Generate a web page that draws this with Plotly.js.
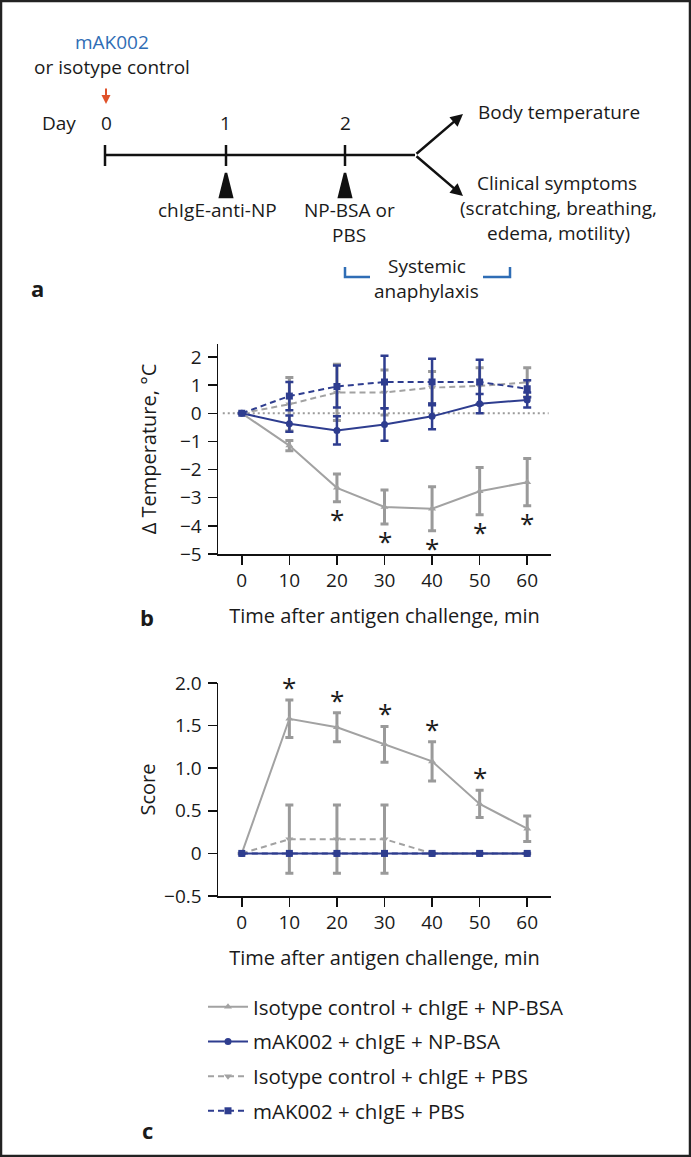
<!DOCTYPE html>
<html>
<head>
<meta charset="utf-8">
<script src="https://cdn.plot.ly/plotly-3.0.1.min.js"></script>
<style>
  html, body { margin: 0; padding: 0; background: #fff; }
  #fig { width: 691px; height: 1157px; }
</style>
</head>
<body>
<div id="fig"></div>
<script>
// time points (min after antigen challenge)
var times = [0, 10, 20, 30, 40, 50, 60];

// panel b: change in body temperature, mean and error
var tempIsoNP      = [0, -1.15, -2.65, -3.33, -3.39, -2.77, -2.45];
var tempIsoNPErr   = [0, 0.18, 0.49, 0.60, 0.78, 0.84, 0.84];
var tempMakNP      = [0, -0.37, -0.61, -0.40, -0.11, 0.34, 0.47];
var tempMakNPErr   = [0, 0.29, 0.50, 0.58, 0.46, 0.34, 0.27];
var tempIsoPBS     = [0, 0.32, 0.74, 0.74, 0.91, 0.97, 1.10];
var tempIsoPBSErr  = [0, 0.95, 1.00, 0.80, 0.57, 0.65, 0.52];
var tempMakPBS     = [0, 0.61, 0.95, 1.11, 1.11, 1.11, 0.87];
var tempMakPBSErr  = [0, 0.50, 0.75, 0.93, 0.83, 0.79, 0.30];
var tempSig        = [false, false, true, true, true, true, true];

// panel c: clinical score
var scoreIsoNP     = [0, 1.58, 1.48, 1.28, 1.08, 0.58, 0.29];
var scoreIsoNPErr  = [0, 0.22, 0.17, 0.21, 0.23, 0.16, 0.15];
var scoreMakNP     = [0, 0, 0, 0, 0, 0, 0];
var scoreIsoPBS    = [0, 0.167, 0.167, 0.167, 0, 0, 0];
var scoreIsoPBSErr = [0, 0.40, 0.40, 0.40, 0, 0, 0];
var scoreMakPBS    = [0, 0, 0, 0, 0, 0, 0];
var scoreSig       = [false, true, true, true, true, true, false];

var seriesNames = [
  'Isotype control + chIgE + NP-BSA',
  'mAK002 + chIgE + NP-BSA',
  'Isotype control + chIgE + PBS',
  'mAK002 + chIgE + PBS'
];
var tempTicks = [-5, -4, -3, -2, -1, 0, 1, 2];
var scoreTicks = [-0.5, 0, 0.5, 1, 1.5, 2];
var scoreTickText = ['\u22120.5', '0', '0.5', '1.0', '1.5', '2.0'];

var W = 691, H = 1157;
function px(x) { return x / W; }
function py(y) { return 1 - y / H; }

var GREY = '#a2a2a2', GREYBAR = '#9a9a9a', BLUE = '#2e3d8f';
var FONT = '"Open Sans", "Noto Sans", sans-serif';
var INK = '#1a1a1a';

function series(x, y, err, k, xa, ya, showleg) {
  var styles = [
    {color: GREY, dash: 'solid', sym: 'triangle-up', bar: GREYBAR, th: 3, rank: 1},
    {color: BLUE, dash: 'solid', sym: 'circle', bar: BLUE, th: 2.5, rank: 2},
    {color: GREY, dash: '6px,4px', sym: 'triangle-down', bar: GREYBAR, th: 3, rank: 3},
    {color: BLUE, dash: '6px,4px', sym: 'square', bar: BLUE, th: 2.5, rank: 4}
  ];
  var s = styles[k];
  var t = {
    x: x, y: y, type: 'scatter', mode: 'lines+markers',
    name: seriesNames[k], legendgroup: 'g' + k, legendrank: s.rank,
    showlegend: showleg, xaxis: xa, yaxis: ya,
    line: {color: s.color, width: 2, dash: s.dash},
    marker: {color: s.color, symbol: s.sym, size: 7}
  };
  if (err) {
    t.error_y = {type: 'data', array: err, visible: true, color: s.bar, thickness: s.th, width: 4};
  }
  return t;
}

var data = [
  series(times, tempIsoNP, tempIsoNPErr, 0, 'x', 'y', true),
  series(times, tempIsoPBS, tempIsoPBSErr, 2, 'x', 'y', true),
  series(times, tempMakNP, tempMakNPErr, 1, 'x', 'y', true),
  series(times, tempMakPBS, tempMakPBSErr, 3, 'x', 'y', true),
  series(times, scoreIsoNP, scoreIsoNPErr, 0, 'x2', 'y2', false),
  series(times, scoreIsoPBS, scoreIsoPBSErr, 2, 'x2', 'y2', false),
  series(times, scoreMakNP, null, 1, 'x2', 'y2', false),
  series(times, scoreMakPBS, null, 3, 'x2', 'y2', false)
];

var annotations = [];
var shapes = [];

function txt(text, x, y, opts) {
  var a = {text: text, x: px(x), y: py(y), xref: 'paper', yref: 'paper', showarrow: false,
           xanchor: 'center', yanchor: 'middle', font: {family: FONT, size: 19, color: INK}};
  for (var k in opts) a[k] = opts[k];
  annotations.push(a);
}
function line(x0, y0, x1, y1, color, w) {
  shapes.push({type: 'line', xref: 'paper', yref: 'paper', x0: px(x0), y0: py(y0), x1: px(x1), y1: py(y1),
               line: {color: color || '#111', width: w || 2.5}});
}
function path(pts, color, fill) {
  var d = pts.map(function (p, i) { return (i ? 'L' : 'M') + px(p[0]) + ',' + py(p[1]); }).join(' ');
  if (fill) d += ' Z';
  shapes.push({type: 'path', xref: 'paper', yref: 'paper', path: d,
               line: {color: color, width: 2.5}, fillcolor: fill ? color : 'rgba(0,0,0,0)'});
}

// ---- panel a: experimental schedule ----
txt('mAK002', 112, 42, {font: {family: FONT, size: 19, color: '#2f6db5'}});
txt('or isotype control', 112, 67);
annotations.push({x: px(106), y: py(104), xref: 'paper', yref: 'paper', text: '', showarrow: true,
  ax: 0, ay: -17, arrowhead: 2, arrowsize: 0.9, arrowwidth: 2, arrowcolor: '#e0522a'});
txt('Day', 59, 123);
txt('0', 106, 123);
txt('1', 226, 123);
txt('2', 345, 123);
line(105, 155, 415, 155);
line(105, 145, 105, 166);
line(226, 145, 226, 166);
line(345, 145, 345, 166);
annotations.push({x: px(463), y: py(114), xref: 'paper', yref: 'paper', text: '', showarrow: true,
  ax: -48, ay: 41, arrowhead: 2, arrowsize: 1, arrowwidth: 2.5, arrowcolor: '#111'});
annotations.push({x: px(463), y: py(196), xref: 'paper', yref: 'paper', text: '', showarrow: true,
  ax: -48, ay: -41, arrowhead: 2, arrowsize: 1, arrowwidth: 2.5, arrowcolor: '#111'});
txt('Body temperature', 476, 112, {xanchor: 'left'});
txt('Clinical symptoms', 475, 183, {xanchor: 'left'});
txt('(scratching, breathing,', 558, 208);
txt('edema, motility)', 558, 233);
path([[226, 173], [232, 197], [220, 197]], '#111', true);
path([[345, 173], [351, 197], [339, 197]], '#111', true);
txt('chIgE-anti-NP', 217, 210);
txt('NP-BSA or', 349, 210);
txt('PBS', 349, 235);
path([[345, 267], [345, 277], [370, 277]], '#2f6db5', false);
path([[483, 277], [510, 277], [510, 267]], '#2f6db5', false);
txt('Systemic', 427, 266);
txt('anaphylaxis', 427, 291);
txt('<b>a</b>', 37, 288, {font: {family: FONT, size: 22, color: INK}});
txt('<b>b</b>', 147, 617, {font: {family: FONT, size: 22, color: INK}});
txt('<b>c</b>', 147, 1130, {font: {family: FONT, size: 22, color: INK}});

// significance marks
times.forEach(function (t, i) {
  if (tempSig[i]) annotations.push({x: t, y: tempIsoNP[i] - tempIsoNPErr[i], xref: 'x', yref: 'y',
    text: '*', showarrow: false, yanchor: 'top', yshift: 3, font: {family: FONT, size: 26, color: INK}});
  if (scoreSig[i]) annotations.push({x: t, y: scoreIsoNP[i] + scoreIsoNPErr[i], xref: 'x2', yref: 'y2',
    text: '*', showarrow: false, yanchor: 'bottom', yshift: -7, font: {family: FONT, size: 26, color: INK}});
});

// dotted zero line in panel b
shapes.push({type: 'line', xref: 'x', yref: 'y', x0: -4, x1: 64.5, y0: 0, y1: 0, layer: 'below',
             line: {color: '#9a9a9a', width: 2, dash: '2px,3px'}});
// figure frame
shapes.push({type: 'rect', xref: 'paper', yref: 'paper', x0: px(1), y0: py(1), x1: px(690), y1: py(1156),
             line: {color: '#222', width: 2.5}});

function xAxis(dom, anchor) {
  return {
    domain: dom, anchor: anchor, range: [-5, 65], tickvals: times,
    ticks: 'outside', ticklen: 9, tickwidth: 1.5, tickcolor: '#111',
    showline: true, linecolor: '#111', linewidth: 1.5, showgrid: false, zeroline: false,
    tickfont: {family: FONT, size: 19, color: INK},
    title: {text: 'Time after antigen challenge, min', font: {family: FONT, size: 20, color: INK}, standoff: 16}
  };
}
function yAxis(dom, anchor, range, vals, textv, title, standoff) {
  var a = {
    domain: dom, anchor: anchor, range: range, tickvals: vals,
    ticks: 'outside', ticklen: 9, tickwidth: 1.5, tickcolor: '#111',
    showline: true, linecolor: '#111', linewidth: 1.5, showgrid: false, zeroline: false,
    ticklabelstandoff: 2,
    tickfont: {family: FONT, size: 19, color: INK},
    title: {text: title, font: {family: FONT, size: 20, color: INK}, standoff: standoff}
  };
  if (textv) a.ticktext = textv;
  return a;
}

var layout = {
  width: W, height: H,
  margin: {l: 0, r: 0, t: 0, b: 0},
  paper_bgcolor: '#fff', plot_bgcolor: '#fff',
  font: {family: FONT, size: 19, color: INK},
  xaxis: xAxis([px(218), px(551)], 'y'),
  yaxis: yAxis([py(554), py(344)], 'x', [-5, 2.46], tempTicks, null, '\u0394 Temperature, \u00b0C', 18),
  xaxis2: xAxis([px(218), px(551)], 'y2'),
  yaxis2: yAxis([py(896), py(683)], 'x2', [-0.5, 2.0], scoreTicks, scoreTickText, 'Score', 3),
  showlegend: true,
  legend: {x: px(203), y: py(987), xanchor: 'left', yanchor: 'top', tracegroupgap: 5, itemwidth: 40,
           font: {family: FONT, size: 20.5, color: INK}, bgcolor: 'rgba(0,0,0,0)'},
  annotations: annotations,
  shapes: shapes
};

Plotly.newPlot('fig', data, layout, {staticPlot: true});
</script>
</body>
</html>
